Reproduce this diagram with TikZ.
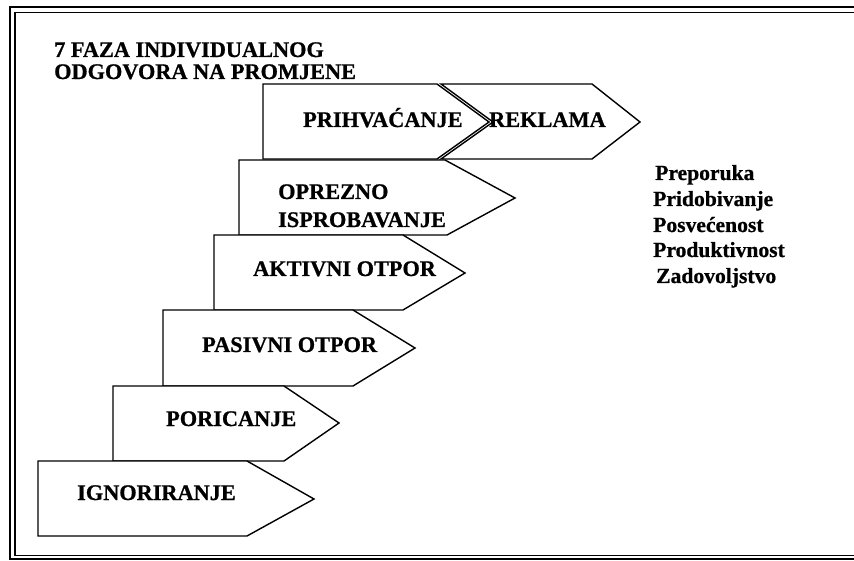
\documentclass[tikz,border=0pt]{standalone}
\usepackage{fontspec}
\setmainfont{Liberation Serif}[BoldFeatures={FakeBold=0.8}]
\begin{document}
\begin{tikzpicture}[x=1pt,y=-1pt,
  stepshape/.style={draw=black,fill=white,line width=1.4pt,line join=miter},
  lbl/.style={anchor=base west,inner sep=0pt,font=\fontsize{22.3}{22}\selectfont\bfseries},
  lst/.style={anchor=base west,inner sep=0pt,font=\fontsize{21.6}{21.6}\selectfont\bfseries},
  outerframe/.style={draw=black,line width=2.2pt},
  innerframe/.style={draw=black,line width=1.5pt}]
\useasboundingbox (0,0) rectangle (854,561);
% frame
\draw[outerframe] (854,7) -- (10,7) -- (10,559) -- (854,559);
\draw[innerframe] (854,12.5) -- (15,12.5) -- (15,555.5) -- (854,555.5);
% title
\node[lbl] (title) at (54,57) {7 FAZA INDIVIDUALNOG};
\node[lbl] (title2) at (54,79) {ODGOVORA NA PROMJENE};
% arrows, top to bottom
\draw[stepshape] (263,84) -- (437,84) -- (489,122) -- (437,159) -- (263,159) -- cycle;
\draw[stepshape] (441,84) -- (592,84) -- (640,122) -- (592,159) -- (441,159) -- (493,122) -- cycle;
\draw[stepshape] (239,160) -- (445,160) -- (515,198) -- (447,235) -- (239,235) -- cycle;
\draw[stepshape] (214,235) -- (403,235) -- (465,273) -- (403,310) -- (214,310) -- cycle;
\draw[stepshape] (163,310) -- (353,310) -- (415,348) -- (353,386) -- (163,386) -- cycle;
\draw[stepshape] (113,386) -- (284,386) -- (339,423) -- (284,461) -- (113,461) -- cycle;
\draw[stepshape] (38,461) -- (247,461) -- (314,499) -- (247,536) -- (38,536) -- cycle;
% labels
\node[lbl] (prihv) at (303,127) {PRIHVAĆANJE};
\node[lbl] (rekl) at (489,127) {REKLAMA};
\node[lbl] (oprez1) at (278,199) {OPREZNO};
\node[lbl] (oprez2) at (278,227) {ISPROBAVANJE};
\node[lbl] (aktiv) at (253,276) {AKTIVNI OTPOR};
\node[lbl] (pasiv) at (202,352) {PASIVNI OTPOR};
\node[lbl] (poric) at (166,426) {PORICANJE};
\node[lbl] (ignor) at (77,500) {IGNORIRANJE};
% list
\node[lst] (l1) at (655,180) {Preporuka};
\node[lst] (l2) at (653,206) {Pridobivanje};
\node[lst] (l3) at (653,232) {Posvećenost};
\node[lst] (l4) at (653,257) {Produktivnost};
\node[lst] (l5) at (656,283) {Zadovoljstvo};
\end{tikzpicture}
\end{document}
